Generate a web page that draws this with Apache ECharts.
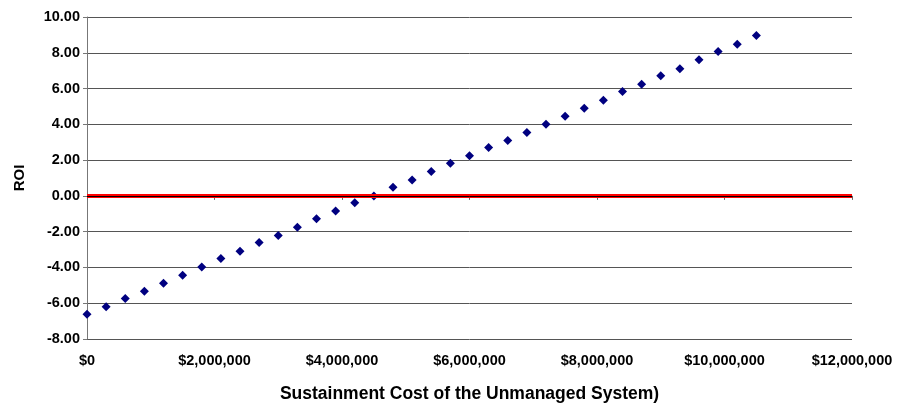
<!DOCTYPE html>
<html><head><meta charset="utf-8">
<script src="https://cdn.jsdelivr.net/npm/echarts@6/dist/echarts.min.js"></script>
<style>html,body{margin:0;padding:0;background:#fff}#c{width:902px;height:408px}</style>
</head><body><div id="c"></div>
<script>
const costs = [0,300000,600000,900000,1200000,1500000,1800000,2100000,2400000,2700000,3000000,3300000,3600000,3900000,4200000,4500000,4800000,5100000,5400000,5700000,6000000,6300000,6600000,6900000,7200000,7500000,7800000,8100000,8400000,8700000,9000000,9300000,9600000,9900000,10200000,10500000];
const roi = [-6.61,-6.2,-5.74,-5.33,-4.89,-4.44,-3.98,-3.5,-3.09,-2.61,-2.22,-1.76,-1.28,-0.85,-0.39,0.0,0.48,0.89,1.37,1.83,2.24,2.7,3.1,3.55,4.0,4.45,4.9,5.35,5.83,6.24,6.72,7.11,7.61,8.07,8.48,8.96];
const xTitle = 'Sustainment Cost of the Unmanaged System)';
const yTitle = 'ROI';

const font = {fontFamily:'Liberation Sans, Arial, sans-serif', fontWeight:'bold', fontSize:14.5, color:'#000'};
const chart = echarts.init(document.getElementById('c'));
chart.setOption({
  animation:false,
  grid:{left:87,right:50,top:17,bottom:67},
  xAxis:{
    type:'value', min:0, max:12000000, interval:2000000,
    name:xTitle, nameLocation:'middle', nameGap:46,
    nameTextStyle:Object.assign({}, font, {fontSize:17.5}),
    axisLine:{show:true, lineStyle:{color:'#333', width:1}},
    axisTick:{show:true, length:4, lineStyle:{color:'#666'}},
    splitLine:{show:false},
    axisLabel:Object.assign({}, font, {margin:14, formatter:v => '$' + v.toLocaleString('en-US')})
  },
  yAxis:{
    type:'value', min:-8, max:10, interval:2,
    name:yTitle, nameLocation:'middle', nameGap:60, nameRotate:90,
    nameTextStyle:Object.assign({}, font, {fontSize:15}),
    axisLine:{show:true, onZero:false, lineStyle:{color:'#777', width:1}},
    axisTick:{show:true, length:4, lineStyle:{color:'#777'}},
    splitLine:{show:true, lineStyle:{color:'#555', width:1}},
    axisLabel:Object.assign({}, font, {margin:7, formatter:v => v.toFixed(2)})
  },
  series:[{
    type:'scatter',
    data:costs.map((c,i)=>[c, roi[i]]),
    symbol:'diamond', symbolSize:9,
    itemStyle:{color:'#000080', opacity:1},
    markLine:{
      silent:true, symbol:'none', label:{show:false},
      data:[
        {yAxis:0, lineStyle:{color:'#ff0000', width:4, type:'solid'}},
        {yAxis:0, lineStyle:{color:'#000000', width:1, type:'solid'}}
      ]
    },
    z:3
  }]
});
</script></body></html>
